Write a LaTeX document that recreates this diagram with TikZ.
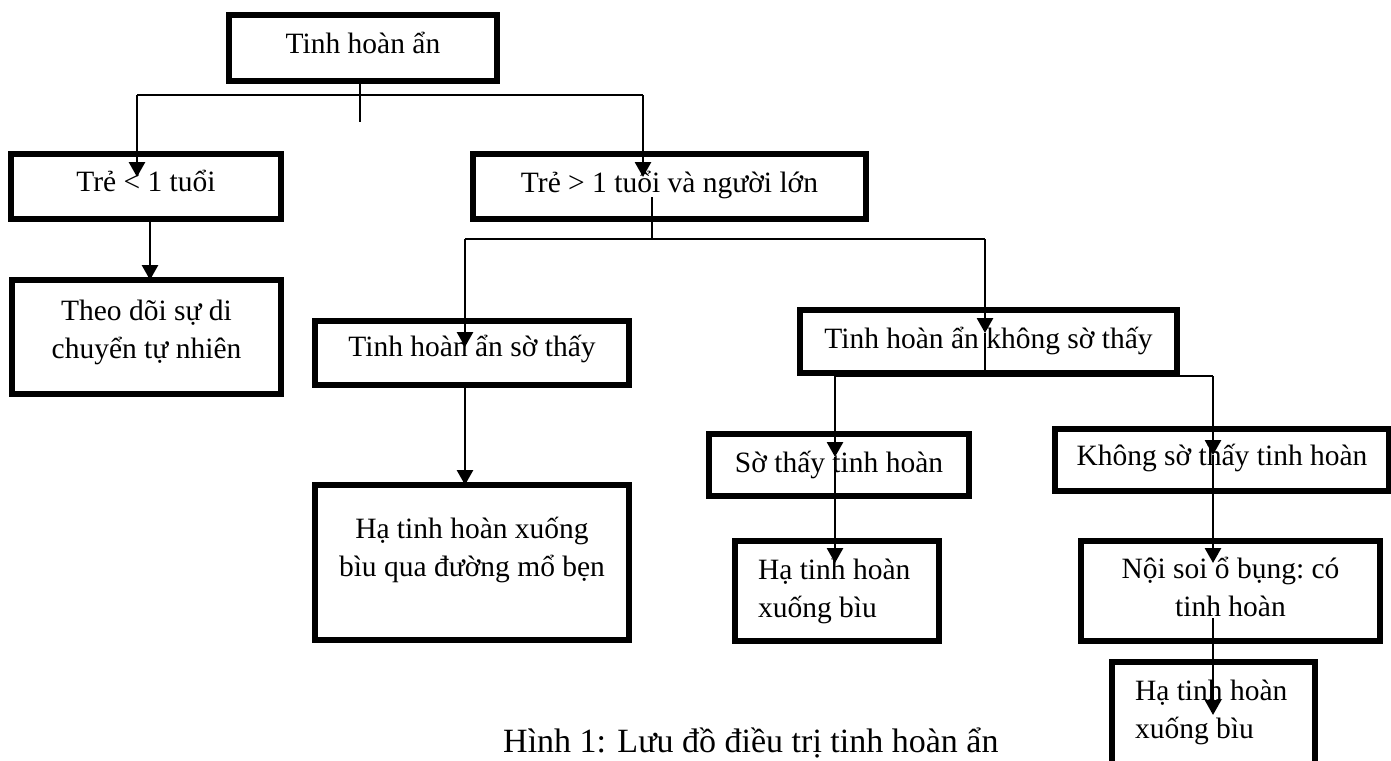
\documentclass[tikz,border=0pt]{standalone}
\usepackage{fontspec}
\setmainfont{Liberation Serif}
\usetikzlibrary{arrows.meta}
\newcommand{\resetsp}{\spaceskip=\fontdimen2\font\relax\xspaceskip=\fontdimen2\font\relax}
\tikzset{
  box/.style={draw, line width=5.2pt, inner sep=0pt, outer sep=0pt, anchor=north west,
    font=\fontsize{29.5pt}{38.5pt}\selectfont},
  bar/.style={line width=1.8pt},
  arr/.style={line width=2.8pt, -{Triangle[length=15pt,width=16pt]}},
  caption/.style={inner sep=0pt, anchor=base west, font=\fontsize{34pt}{40pt}\selectfont}
}
\begin{document}
\begin{tikzpicture}[x=1pt, y=-1pt]
\useasboundingbox (0,0) rectangle (1391,760);
\fill[white] (0,0) rectangle (1391,760);
\begin{scope}
\clip (0,0) rectangle (1391,760);
% boxes
\node[box, minimum width=268pt, text height=38pt, text depth=28pt] (A) at (229,15) {Tinh hoàn ẩn};
\node[box, minimum width=270pt, text height=37pt, text depth=28pt] (B) at (11,154) {Trẻ < 1 tuổi};
\node[box, minimum width=393pt, text height=38pt, text depth=27pt] (C) at (473,154) {Trẻ > 1 tuổi và người lớn};
\node[box, text width=269pt, align=center, text height=40pt, text depth=74pt] (D) at (12,280) {\resetsp Theo dõi sự di\\chuyển tự nhiên};
\node[box, minimum width=314pt, text height=35pt, text depth=29pt] (E) at (315,321) {Tinh hoàn ẩn sờ thấy};
\node[box, text width=314pt, align=center, text height=53pt, text depth=102pt] (F) at (315,485) {\resetsp Hạ tinh hoàn xuống\\bìu qua đường mổ bẹn};
\node[box, minimum width=377pt, text height=38pt, text depth=25pt] (G) at (800,310) {Tinh hoàn ẩn không sờ thấy};
\node[box, minimum width=260pt, text height=38pt, text depth=24pt] (H) at (709,434) {Sờ thấy tinh hoàn};
\node[box, minimum width=334pt, text height=36pt, text depth=26pt] (I) at (1055,429) {Không sờ thấy tinh hoàn};
\node[box, text width=158pt, inner xsep=23pt, align=left, text height=38pt, text depth=62pt] (J) at (735,541) {\resetsp Hạ tinh hoàn\\xuống bìu};
\node[box, text width=299pt, align=center, text height=37pt, text depth=63pt] (K) at (1081,541) {\resetsp Nội soi ổ bụng: có\\tinh hoàn};
\node[box, text width=157pt, inner xsep=23pt, align=left, text height=38pt, text depth=100pt] (L) at (1112,662) {\resetsp Hạ tinh hoàn\\xuống bìu};
% caption
\node[caption] (cap) at (503,752) {Hình 1: Lưu đồ điều trị tinh hoàn ẩn};
% junction coordinates
\coordinate (jA) at (360,95);
\coordinate (sA) at (360,122);
\coordinate (lA) at (137,95);
\coordinate (rA) at (643,95);
\coordinate (tB) at (137,177);
\coordinate (tC) at (643,177);
\coordinate (xBD) at (150,0);
\coordinate (sC) at (652,197);
\coordinate (jC) at (652,239);
\coordinate (lC) at (465,239);
\coordinate (rC) at (985,239);
\coordinate (tE) at (465,347);
\coordinate (tG) at (985,333);
\coordinate (jG) at (985,376);
\coordinate (lG) at (835,376);
\coordinate (rG) at (1213,376);
\coordinate (tH) at (835,457);
\coordinate (tI) at (1213,455);
\coordinate (tJ) at (835,563);
\coordinate (tK) at (1213,563);
\coordinate (sK) at (1213,618);
\coordinate (tL) at (1213,715);
% connectors
\draw[bar] (A.south -| jA) -- (sA);
\draw[bar] (lA) -- (rA);
\draw[arr] (lA) -- (tB);
\draw[arr] (rA) -- (tC);
\draw[arr] (B.south -| xBD) -- (D.north -| xBD);
\draw[bar] (sC) -- (jC);
\draw[bar] (lC) -- (rC);
\draw[arr] (lC) -- (tE);
\draw[arr] (rC) -- (tG);
\draw[arr] (E.south -| lC) -- (F.north -| lC);
\draw[bar] (tG) -- (jG);
\draw[bar] (lG) -- (rG);
\draw[arr] (lG) -- (tH);
\draw[arr] (rG) -- (tI);
\draw[arr] (tH) -- (tJ);
\draw[arr] (tI) -- (tK);
\draw[arr] (sK) -- (tL);
\end{scope}
\end{tikzpicture}
\end{document}
